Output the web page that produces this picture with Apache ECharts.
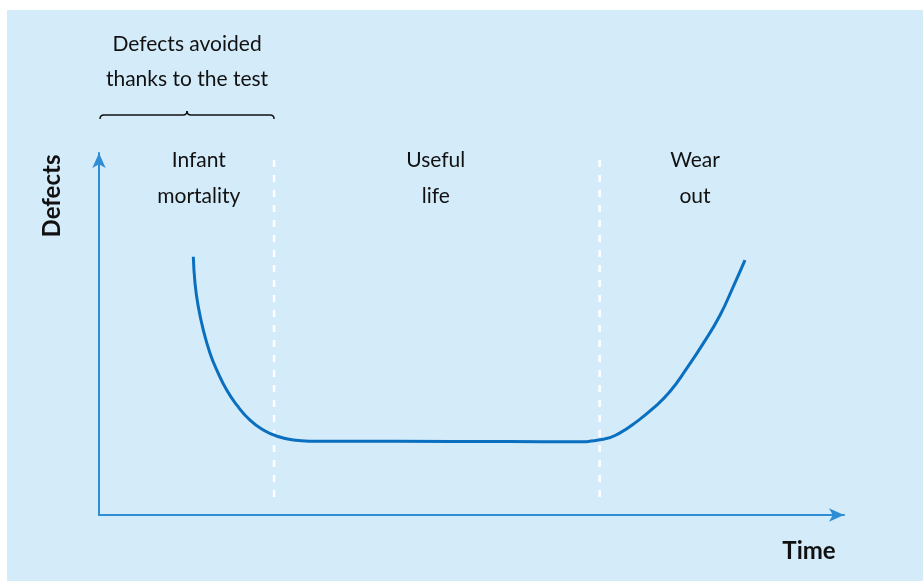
<!DOCTYPE html>
<html><head><meta charset="utf-8">
<script src="https://cdn.jsdelivr.net/npm/echarts@6/dist/echarts.min.js"></script>
<style>html,body{margin:0;padding:0;background:#fff}#c{width:923px;height:581px}</style>
</head><body><div id="c"></div>
<script>
// Bathtub curve (schematic values, arbitrary units)
const curveX = [12.66, 12.89, 13.33, 14.0, 14.9, 15.8, 17.14, 18.48, 20.27, 22.05, 23.85, 26.08, 28.32, 40, 55, 63.7, 67.69, 69.93, 72.17, 74.4, 76.64, 78.89, 81.11, 83.36, 85.14, 86.71];
const curveY = [71.35, 64.0, 57.5, 51.1, 44.7, 40.1, 34.5, 30.4, 26.2, 23.5, 21.8, 20.7, 20.4, 20.35, 20.3, 20.25, 20.9, 22.7, 25.8, 29.5, 34.1, 40.5, 47.4, 55.2, 63.1, 70.4];
const phaseBoundaries = [23.5, 67.2];
const phaseLabels = ['Infant\nmortality', 'Useful\nlife', 'Wear\nout'];
const phaseLabelX = [13.4, 45.2, 80.0];
const phaseLabelY = 93.1;
const boundaryRange = [5, 99.4];
const braceNote = 'Defects avoided\nthanks to the test';
const xName = 'Time';
const yName = 'Defects';

const FONT = 'Lato';
const chart = echarts.init(document.getElementById('c'), null, {renderer: 'canvas'});

const series = [];
phaseBoundaries.forEach(b => {
  series.push({
    type: 'line', data: [[b, boundaryRange[0]], [b, boundaryRange[1]]],
    showSymbol: false, clip: false, silent: true,
    lineStyle: {color: '#ffffff', width: 2.5, type: [7, 8]}, z: 1
  });
});
series.push({
  type: 'line', data: curveX.map((x, i) => [x, curveY[i]]),
  showSymbol: false, smooth: 0.5, clip: false,
  lineStyle: {color: '#0a6fbf', width: 3}, z: 3
});
series.push({
  type: 'scatter', symbolSize: 0, clip: false, silent: true,
  itemStyle: {opacity: 1},
  data: phaseLabels.map((t, i) => ({value: [phaseLabelX[i], phaseLabelY], label: {formatter: t}})),
  label: {show: true, position: 'inside', color: '#111', fontFamily: FONT, fontSize: 21, lineHeight: 36, align: 'center', verticalAlign: 'middle', textBorderWidth: 0, opacity: 1}
});

chart.setOption({
  animation: false,
  grid: {left: 99, right: 79, top: 153, bottom: 66},
  xAxis: {type: 'value', min: 0, max: 100,
    axisLine: {show: true, symbol: ['none', 'arrow'], symbolSize: [10, 15], lineStyle: {color: '#2f8dd6', width: 2}},
    axisTick: {show: false}, axisLabel: {show: false}, splitLine: {show: false}},
  yAxis: {type: 'value', min: 0, max: 100,
    axisLine: {show: true, symbol: ['none', 'arrow'], symbolSize: [10, 15], lineStyle: {color: '#2f8dd6', width: 2}},
    axisTick: {show: false}, axisLabel: {show: false}, splitLine: {show: false}},
  series: series
});

const p0 = chart.convertToPixel({gridIndex: 0}, [0, 0]);
const pb = chart.convertToPixel({gridIndex: 0}, [phaseBoundaries[0], 0]);
const L = p0[0] + 1, R = pb[0], Y = 115, mid = (L + R) / 2;
const bs = {stroke: '#111', lineWidth: 1.5, fill: null};
const brace = [
  {type: 'bezierCurve', shape: {x1: L, y1: Y + 4, cpx1: L, cpy1: Y, x2: L + 4, y2: Y}, style: bs},
  {type: 'line', shape: {x1: L + 4, y1: Y, x2: mid - 4, y2: Y}, style: bs},
  {type: 'bezierCurve', shape: {x1: mid - 4, y1: Y, cpx1: mid, cpy1: Y, x2: mid, y2: Y - 4}, style: bs},
  {type: 'bezierCurve', shape: {x1: mid, y1: Y - 4, cpx1: mid, cpy1: Y, x2: mid + 4, y2: Y}, style: bs},
  {type: 'line', shape: {x1: mid + 4, y1: Y, x2: R - 4, y2: Y}, style: bs},
  {type: 'bezierCurve', shape: {x1: R - 4, y1: Y, cpx1: R, cpy1: Y, x2: R, y2: Y + 4}, style: bs}
];

chart.setOption({
  graphic: [
    {type: 'rect', z: -10, silent: true, shape: {x: 7, y: 10, width: 916, height: 571}, style: {fill: '#d4ebfa'}},
    ...brace,
    {type: 'text', x: mid, y: 62, style: {text: braceNote, font: `21px ${FONT}`, fill: '#111', align: 'center', verticalAlign: 'middle', lineHeight: 35}},
    {type: 'text', x: 52, y: 196, rotation: Math.PI / 2, style: {text: yName, font: `bold 24px ${FONT}`, fill: '#111', align: 'center', verticalAlign: 'middle'}},
    {type: 'text', x: 809, y: 551, style: {text: xName, font: `bold 24px ${FONT}`, fill: '#111', align: 'center', verticalAlign: 'middle'}}
  ]
});
</script></body></html>
